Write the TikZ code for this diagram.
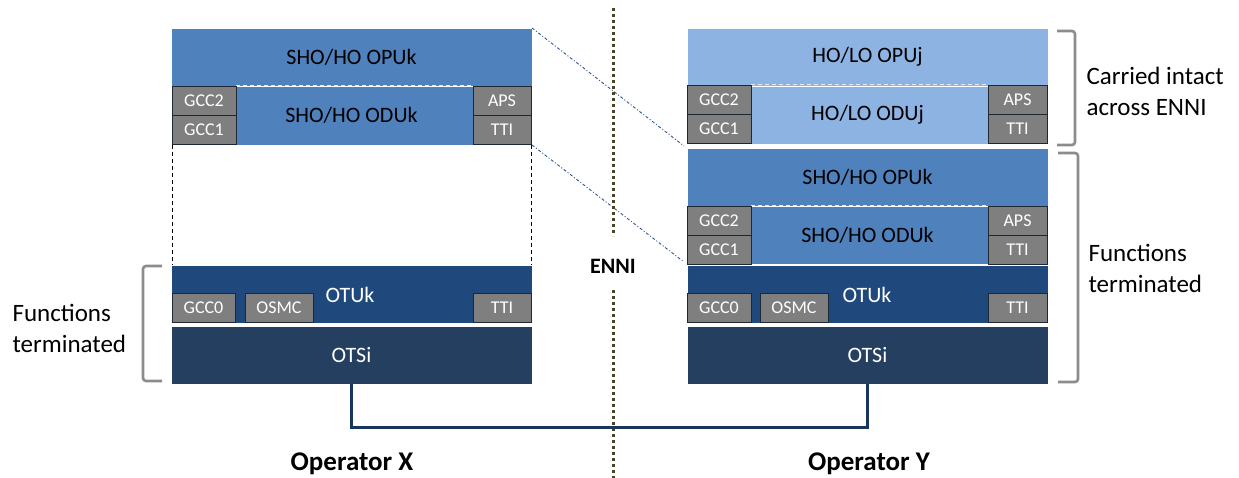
\documentclass[tikz,border=0pt]{standalone}
\usepackage{fontspec}
\setmainfont{Carlito}
\definecolor{hol}{HTML}{8DB3E2}
\definecolor{sho}{HTML}{4F81BD}
\definecolor{otu}{HTML}{1F497D}
\definecolor{ots}{HTML}{243F60}
\definecolor{gbox}{HTML}{7F7F7F}
\definecolor{gborder}{HTML}{1E2833}
\definecolor{olive}{HTML}{4A452A}
\definecolor{dashblue}{HTML}{2F5597}
\definecolor{link}{HTML}{17375E}
\definecolor{brk}{HTML}{8C8C8C}
\tikzset{
  layer/.style={rectangle, inner sep=0pt, outer sep=0pt, anchor=north west, font=\fontsize{22}{26}\selectfont, draw=white, line width=0.6pt},
  gray box/.style={rectangle, inner sep=0pt, outer sep=0pt, anchor=north west, fill=gbox, draw=gborder, line width=0.9pt, text=white, font=\fontsize{18}{21}\selectfont},
  inner dash/.style={draw=white!85!sho, dashed, dash pattern=on 4pt off 3pt, line width=1pt},
  bracket/.style={draw=brk, line width=2.6pt, rounded corners=3pt},
  side label/.style={anchor=west, align=left, font=\fontsize{25}{31}\selectfont},
  enniline/.style={draw=olive, line width=3pt, dash pattern=on 2.6pt off 3.4pt},
  cross/.style={draw=dashblue, line width=0.9pt, dash pattern=on 3pt off 2pt on 1pt off 2pt},
  tie/.style={draw=black, line width=0.8pt, dash pattern=on 4pt off 3pt},
  opname/.style={font=\bfseries\fontsize{27}{31}\selectfont},
  layer text/.style={text=white, font=\fontsize{22}{26}\selectfont},
}
\begin{document}
\begin{tikzpicture}[x=1pt,y=-1pt]
\useasboundingbox (0,0) rectangle (1239,478);
% ---------- Left stack ----------
\node[layer, fill=sho, minimum width=361pt, minimum height=58pt] (LOPU) at (171,28) {SHO/HO OPUk};
\node[layer, fill=sho, minimum width=361pt, minimum height=59pt] (LODU) at (171,86) {SHO/HO ODUk};
\node[gray box, minimum width=64pt, minimum height=29pt] (LGCC2) at (172,86) {GCC2};
\node[gray box, minimum width=64pt, minimum height=29pt] (LGCC1) at (172,115) {GCC1};
\node[gray box, minimum width=58pt, minimum height=29pt] (LAPS) at (473,86) {APS};
\node[gray box, minimum width=58pt, minimum height=29pt] (LTTI) at (473,115) {TTI};
\draw[inner dash] (LGCC2.north east) -- (LAPS.north west);

\node[layer, fill=otu, minimum width=361pt, minimum height=58pt] (LOTU) at (171,265) {};
\node[layer text] (LOTUt) at (350,295) {OTUk};
\node[gray box, minimum width=63pt, minimum height=29pt] (LGCC0) at (172,293) {GCC0};
\node[gray box, minimum width=68pt, minimum height=29pt] (LOSMC) at (245,293) {OSMC};
\node[gray box, minimum width=58pt, minimum height=29pt] (LTTI0) at (473,293) {TTI};
\node[layer, fill=ots, text=white, minimum width=361pt, minimum height=58pt] (LOTS) at (171,326) {OTSi};

\draw[tie] ([xshift=1pt]LODU.south west) -- ([xshift=1pt]LOTU.north west);
\draw[tie] ([xshift=-1pt]LODU.south east) -- ([xshift=-1pt]LOTU.north east);

% ---------- Right stack ----------
\node[layer, fill=hol, minimum width=361pt, minimum height=58pt] (ROPUj) at (687,28) {HO/LO OPUj};
\node[layer, fill=hol, minimum width=361pt, minimum height=58pt] (RODUj) at (687,86) {HO/LO ODUj};
\node[gray box, minimum width=64pt, minimum height=29pt] (RGCC2a) at (687,85) {GCC2};
\node[gray box, minimum width=64pt, minimum height=29pt] (RGCC1a) at (687,114) {GCC1};
\node[gray box, minimum width=59pt, minimum height=29pt] (RAPSa) at (988,85) {APS};
\node[gray box, minimum width=59pt, minimum height=29pt] (RTTIa) at (988,114) {TTI};
\draw[inner dash] (RGCC2a.north east) -- (RAPSa.north west);

\node[layer, fill=sho, minimum width=361pt, minimum height=58pt] (ROPU) at (687,148) {SHO/HO OPUk};
\node[layer, fill=sho, minimum width=361pt, minimum height=58pt] (RODU) at (687,206) {SHO/HO ODUk};
\node[gray box, minimum width=64pt, minimum height=29pt] (RGCC2b) at (687,206) {GCC2};
\node[gray box, minimum width=64pt, minimum height=29pt] (RGCC1b) at (687,235) {GCC1};
\node[gray box, minimum width=59pt, minimum height=29pt] (RAPSb) at (988,206) {APS};
\node[gray box, minimum width=59pt, minimum height=29pt] (RTTIb) at (988,235) {TTI};
\draw[inner dash] (RGCC2b.north east) -- (RAPSb.north west);

\node[layer, fill=otu, minimum width=361pt, minimum height=58pt] (ROTU) at (687,265) {};
\node[layer text] (ROTUt) at (867,295) {OTUk};
\node[gray box, minimum width=64pt, minimum height=29pt] (RGCC0) at (687,293) {GCC0};
\node[gray box, minimum width=68pt, minimum height=29pt] (ROSMC) at (760,293) {OSMC};
\node[gray box, minimum width=59pt, minimum height=29pt] (RTTI0) at (988,293) {TTI};
\node[layer, fill=ots, text=white, minimum width=361pt, minimum height=58pt] (ROTS) at (687,326) {OTSi};

% ---------- Cross lines ----------
\draw[cross] (LOPU.north east) -- ([xshift=-3pt,yshift=2pt]ROPU.north west);
\draw[cross] (LODU.south east) -- ([xshift=-3pt,yshift=2pt]RODU.south west);

% ---------- ENNI ----------
\node[font=\bfseries\fontsize{22}{26}\selectfont] (enni) at (613,266) {ENNI};
\coordinate (ennitop) at (613,8);
\coordinate (enniA) at (613,236);
\coordinate (enniB) at (613,290);
\coordinate (ennibot) at (613,478);
\draw[enniline] (ennitop) -- (enniA);
\draw[enniline] (enniB) -- (ennibot);

% ---------- Link ----------
\draw[link, line width=3pt] (LOTS.south) -- ++(0,43) -| (ROTS.south);

% ---------- Brackets ----------
\draw[bracket] (1057,31) -| (1075,145) -- (1057,145);
\draw[bracket] (1058,153) -| (1078,382) -- (1058,382);
\draw[bracket] (162,266) -| (143,381) -- (162,381);

\node[side label] (carried) at (1083,91) {Carried intact\\across ENNI};
\node[side label] (ftR) at (1085,268) {Functions\\terminated};
\node[side label] (ftL) at (9,328) {Functions\\terminated};

% ---------- Operators ----------
\node[opname] (opX) at (352,464) {Operator X};
\node[opname] (opY) at (869,464) {Operator Y};
\end{tikzpicture}
\end{document}
